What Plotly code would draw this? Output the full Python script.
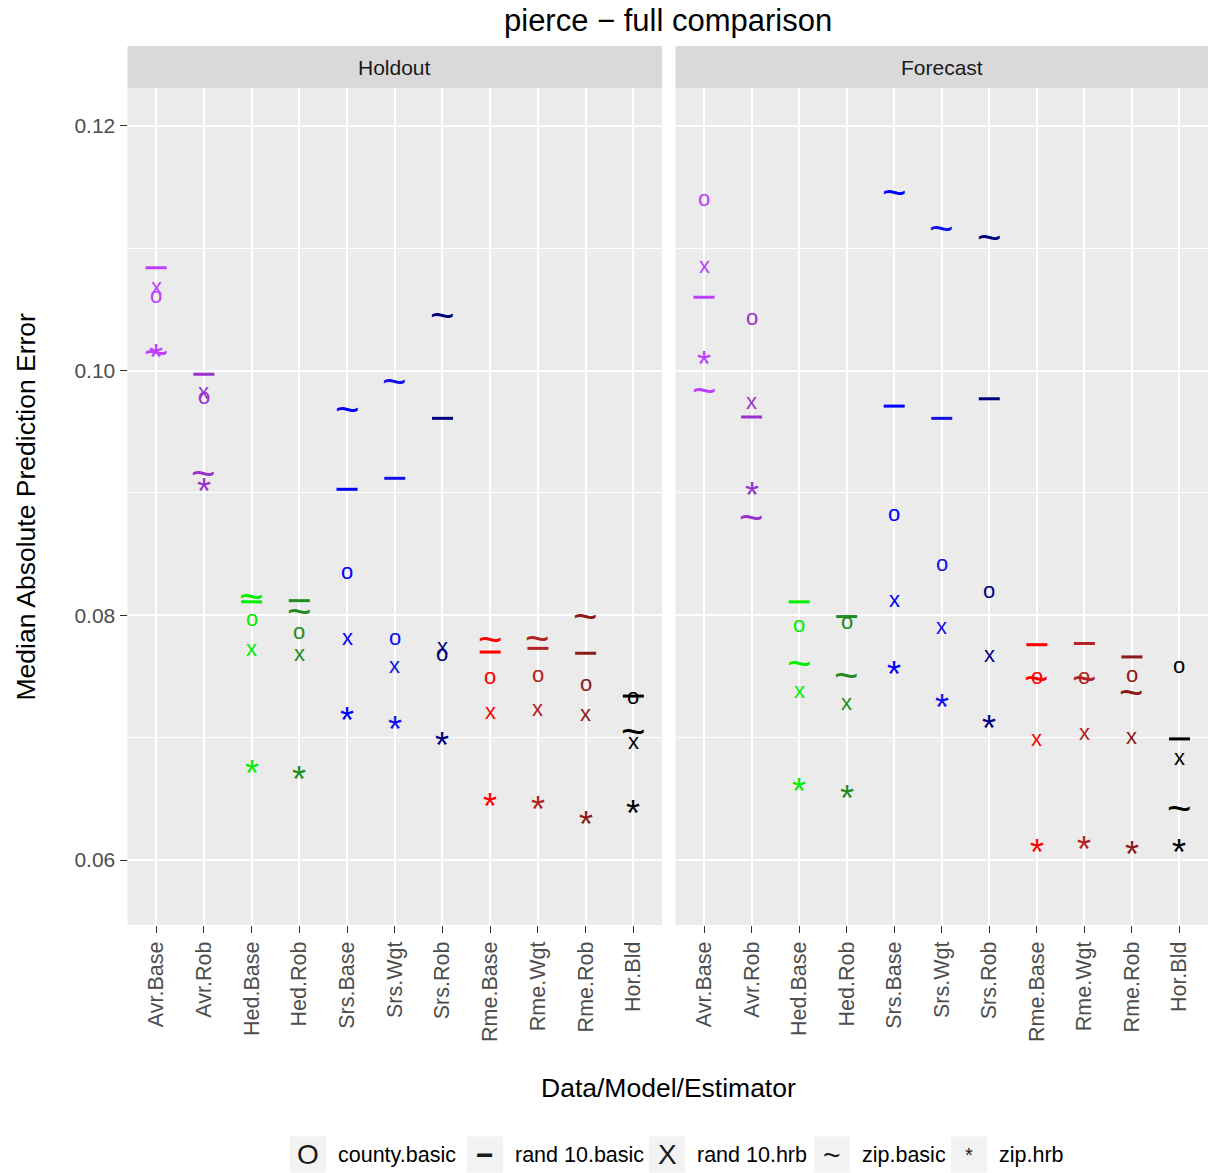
import plotly.graph_objects as go

# ---- data -------------------------------------------------------------
categories = ["Avr.Base", "Avr.Rob", "Hed.Base", "Hed.Rob", "Srs.Base", "Srs.Wgt",
              "Srs.Rob", "Rme.Base", "Rme.Wgt", "Rme.Rob", "Hor.Bld"]

cat_colors = ["#BF3EFF", "#9A32CD", "#00EE00", "#228B22", "#0000FF", "#1010E8",
              "#000080", "#FF0000", "#B22222", "#8B1A1A", "#000000"]

series_names = ["county.basic", "rand 10.basic", "rand 10.hrb", "zip.basic", "zip.hrb"]
series_glyphs = ["o", "\u2212", "x", "~", "*"]
legend_glyphs = ["O", "\u2212", "X", "~", "*"]

panels = ["Holdout", "Forecast"]

holdout = {
    "county.basic":  [0.1060, 0.0977, 0.0796, 0.0785, 0.0834, 0.0780, 0.0767, 0.0748, 0.0750, 0.0743, 0.0732],
    "rand 10.basic": [0.1084, 0.0997, 0.0811, 0.0812, 0.0903, 0.0912, 0.0961, 0.0770, 0.0773, 0.0769, 0.0734],
    "rand 10.hrb":   [0.1067, 0.0981, 0.0771, 0.0767, 0.0780, 0.0757, 0.0773, 0.0720, 0.0722, 0.0718, 0.0695],
    "zip.basic":     [0.1015, 0.0916, 0.0815, 0.0803, 0.0968, 0.0991, 0.1045, 0.0780, 0.0781, 0.0799, 0.0705],
    "zip.hrb":       [0.1015, 0.0905, 0.0675, 0.0670, 0.0718, 0.0711, 0.0698, 0.0648, 0.0645, 0.0633, 0.0642],
}

forecast = {
    "county.basic":  [0.1139, 0.1042, 0.0791, 0.0793, 0.0882, 0.0841, 0.0819, 0.0748, 0.0748, 0.0750, 0.0757],
    "rand 10.basic": [0.1060, 0.0962, 0.0811, 0.0799, 0.0971, 0.0961, 0.0977, 0.0776, 0.0777, 0.0766, 0.0699],
    "rand 10.hrb":   [0.1084, 0.0973, 0.0737, 0.0727, 0.0811, 0.0789, 0.0766, 0.0698, 0.0703, 0.0699, 0.0682],
    "zip.basic":     [0.0984, 0.0880, 0.0761, 0.0751, 0.1146, 0.1116, 0.1109, 0.0748, 0.0748, 0.0737, 0.0642],
    "zip.hrb":       [0.1009, 0.0902, 0.0660, 0.0654, 0.0756, 0.0729, 0.0712, 0.0610, 0.0613, 0.0609, 0.0610],
}

y_ticks = [0.06, 0.08, 0.10, 0.12]
y_tick_labels = ["0.06", "0.08", "0.10", "0.12"]

# ---- layout geometry (pixels) ------------------------------------------
W, H = 1208, 1173
FONT = "Liberation Sans"
PANEL_X = [(127.5, 662.0), (675.5, 1208.0)]
PANEL_TOP, PANEL_BOTTOM = 88, 925
STRIP_TOP = 46
Y_RANGE = [0.05469, 0.12310]


def px(x):
    return x / W


def py(y):
    return 1 - y / H


# glyph style: font size and vertical nudge so the ink centre sits on the value
glyph_style = {
    "o": dict(size=22, shift=2),
    "x": dict(size=22, shift=2),
    "~": dict(size=42, shift=0),
    "*": dict(size=36, shift=-5),
}

fig = go.Figure()
annotations = []

for p, data in enumerate([holdout, forecast]):
    xref = "x" if p == 0 else "x2"
    yref = "y" if p == 0 else "y2"
    for name, glyph in zip(series_names, series_glyphs):
        vals = data[name]
        if glyph == "\u2212":
            fig.add_trace(go.Scatter(
                x=categories, y=vals, mode="markers", xaxis=xref, yaxis=yref,
                showlegend=False, hoverinfo="skip",
                marker=dict(symbol="line-ew", size=15,
                            line=dict(width=3, color=cat_colors)),
            ))
            continue
        st = glyph_style[glyph]
        for c, v, col in zip(categories, vals, cat_colors):
            annotations.append(dict(
                x=c, y=v, xref=xref, yref=yref, text=glyph, showarrow=False,
                font=dict(family=FONT, size=st["size"], color=col),
                xanchor="center", yanchor="middle", yshift=st["shift"],
            ))

# facet strips
shapes = []
for (x0, x1), label in zip(PANEL_X, panels):
    shapes.append(dict(type="rect", xref="paper", yref="paper",
                       x0=px(x0), x1=px(x1), y0=py(PANEL_TOP), y1=py(STRIP_TOP),
                       fillcolor="#D9D9D9", line=dict(width=0), layer="below"))
    annotations.append(dict(x=px((x0 + x1) / 2), y=py((STRIP_TOP + PANEL_TOP) / 2),
                            xref="paper", yref="paper", text=label, showarrow=False,
                            font=dict(family=FONT, size=21, color="#1A1A1A"),
                            xanchor="center", yanchor="middle"))

# titles
annotations.append(dict(x=px(668), y=py(21), xref="paper", yref="paper",
                        text="pierce \u2212 full comparison", showarrow=False,
                        font=dict(family=FONT, size=31, color="#000000"),
                        xanchor="center", yanchor="middle"))
annotations.append(dict(x=px(668), y=py(1088), xref="paper", yref="paper",
                        text="Data/Model/Estimator", showarrow=False,
                        font=dict(family=FONT, size=26.5, color="#000000"),
                        xanchor="center", yanchor="middle"))
annotations.append(dict(x=px(25), y=py((PANEL_TOP + PANEL_BOTTOM) / 2), xref="paper", yref="paper",
                        text="Median Absolute Prediction Error", showarrow=False, textangle=-90,
                        font=dict(family=FONT, size=26.5, color="#000000"),
                        xanchor="center", yanchor="middle"))

# legend along the bottom
key_centers = [308, 485, 667, 832, 969]
legend_sizes = [28, 30, 28, 30, 20]
legend_y = 1154.5
for name, g, kc, gs in zip(series_names, legend_glyphs, key_centers, legend_sizes):
    shapes.append(dict(type="rect", xref="paper", yref="paper",
                       x0=px(kc - 18), x1=px(kc + 18), y0=py(legend_y + 18), y1=py(legend_y - 18),
                       fillcolor="#F2F2F2", line=dict(width=0)))
    annotations.append(dict(x=px(kc), y=py(legend_y), xref="paper", yref="paper",
                            text=(f"<b>{g}</b>" if g == "\u2212" else g), showarrow=False,
                            font=dict(family=FONT, size=gs, color="#1A1A1A"),
                            xanchor="center", yanchor="middle"))
    annotations.append(dict(x=px(kc + 28), y=py(legend_y), xref="paper", yref="paper",
                            text=name, showarrow=False,
                            font=dict(family=FONT, size=21.5, color="#000000"),
                            xanchor="left", yanchor="middle"))

xaxis_common = dict(
    type="category", categoryorder="array", categoryarray=categories,
    range=[-0.6, len(categories) - 0.4],
    showgrid=True, gridcolor="#FFFFFF", gridwidth=2.4, zeroline=False,
    ticks="outside", ticklen=7, tickwidth=1.2, tickcolor="#333333",
    tickangle=-90, tickfont=dict(family=FONT, size=21.5, color="#4D4D4D"),
    showline=False, fixedrange=True,
)
yaxis_common = dict(
    range=Y_RANGE, tickvals=y_ticks, ticktext=y_tick_labels,
    showgrid=True, gridcolor="#FFFFFF", gridwidth=2.4, zeroline=False,
    minor=dict(dtick=0.01, tick0=0.05, showgrid=True, gridcolor="#FFFFFF", gridwidth=1.2, ticks=""),
    showline=False, fixedrange=True,
    domain=[py(PANEL_BOTTOM), py(PANEL_TOP)],
)

fig.update_layout(
    width=W, height=H,
    margin=dict(l=0, r=0, t=0, b=0),
    paper_bgcolor="#FFFFFF", plot_bgcolor="#EBEBEB",
    showlegend=False,
    xaxis=dict(xaxis_common, domain=[px(PANEL_X[0][0]), px(PANEL_X[0][1])], anchor="y"),
    xaxis2=dict(xaxis_common, domain=[px(PANEL_X[1][0]), px(PANEL_X[1][1])], anchor="y2"),
    yaxis=dict(yaxis_common, anchor="x", ticks="outside", ticklen=7, tickwidth=1.2,
               tickcolor="#333333", tickfont=dict(family=FONT, size=21, color="#4D4D4D")),
    yaxis2=dict(yaxis_common, anchor="x2", matches="y", showticklabels=False, ticks=""),
    shapes=shapes,
    annotations=annotations,
)

fig.write_html("out.html")
